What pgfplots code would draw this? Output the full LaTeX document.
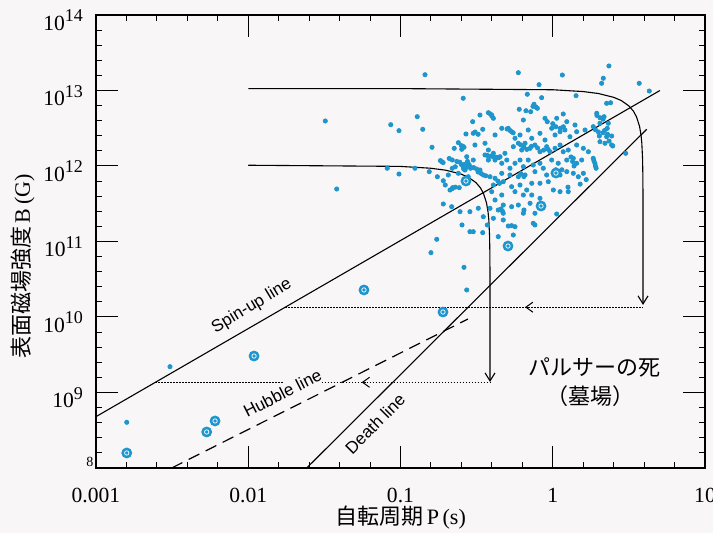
\documentclass[border=0pt]{standalone}
\usepackage{pgfplots}
\usepackage{pgfplotstable}
\pgfplotsset{compat=1.18}
\usepackage{fontspec}
\setmainfont{Liberation Serif}
\setsansfont{Liberation Sans}
\newfontfamily\jp{Noto Sans CJK JP}
\usetikzlibrary{arrows.meta}
\definecolor{pulsar}{RGB}{30,150,205}
\definecolor{paper}{RGB}{248,246,246}
\newcommand{\pw}[1]{10\raisebox{4.2pt}{\fontsize{9}{9}\selectfont #1}}

\pgfplotstableread{
x y
-0.839 13.209
-0.588 12.897
-1.494 12.596
-0.890 12.653
-1.064 12.547
-1.010 12.468
-0.854 12.486
-0.570 12.424
-0.793 12.248
-0.647 12.234
-0.620 12.309
-0.598 12.221
-0.583 12.248
-0.729 12.057
-0.738 12.072
-0.720 12.045
-1.087 11.970
-1.010 11.894
-0.905 11.970
-0.811 11.925
-0.758 11.858
-0.719 11.805
-0.706 11.748
-0.675 11.682
-0.657 11.713
-0.614 11.713
-1.419 11.695
-0.719 11.497
-0.664 11.461
-0.609 11.395
-0.596 11.219
-0.762 11.029
-0.800 10.852
-0.583 10.658
-0.565 10.358
-0.686 11.881
-0.620 11.903
-0.588 11.991
-0.555 11.858
-0.226 13.236
0.063 13.205
0.369 13.325
0.332 13.162
0.321 13.095
-0.090 13.077
-0.167 12.950
-0.073 12.905
0.153 12.931
0.354 12.830
-0.220 12.751
-0.176 12.732
-0.145 12.719
-0.123 12.817
-0.101 12.764
-0.423 12.706
-0.401 12.675
-0.478 12.675
-0.390 12.632
-0.526 12.587
-0.193 12.609
-0.051 12.632
-0.036 12.587
0.026 12.632
0.069 12.689
0.092 12.587
0.146 12.543
0.289 12.698
0.337 12.653
0.310 12.566
0.365 12.566
-0.522 12.433
-0.460 12.486
-0.379 12.411
-0.335 12.499
-0.292 12.499
-0.270 12.454
-0.248 12.367
-0.215 12.411
-0.161 12.477
-0.138 12.367
-0.084 12.433
-0.051 12.344
-0.007 12.499
0.015 12.411
0.048 12.454
0.080 12.477
0.113 12.388
0.157 12.454
0.212 12.477
0.266 12.521
0.306 12.397
0.354 12.388
0.387 12.397
0.387 12.278
-0.511 12.278
-0.445 12.301
-0.423 12.212
-0.390 12.168
-0.346 12.123
-0.314 12.168
-0.259 12.256
-0.226 12.301
-0.204 12.212
-0.182 12.301
-0.149 12.234
-0.117 12.278
-0.084 12.189
-0.040 12.256
-0.018 12.189
0.015 12.234
0.048 12.278
0.069 12.189
0.102 12.212
0.157 12.278
0.201 12.234
0.234 12.189
0.310 12.322
0.343 12.301
-0.565 12.123
-0.522 12.079
-0.445 12.146
-0.423 12.079
-0.379 12.079
-0.335 12.036
-0.302 12.079
-0.281 11.970
-0.248 12.036
-0.215 12.079
-0.193 11.991
-0.161 12.079
-0.128 12.013
-0.084 12.036
-0.062 11.970
-0.007 12.079
0.036 12.036
0.092 12.079
0.135 12.102
0.157 12.036
0.190 12.079
0.266 12.102
0.277 12.036
-0.576 11.947
-0.544 11.991
-0.478 11.947
-0.456 11.881
-0.412 11.858
-0.379 11.837
-0.335 11.903
-0.281 11.881
-0.226 11.858
-0.182 11.881
-0.117 11.925
-0.040 11.881
0.004 11.903
0.048 11.881
0.092 11.925
0.135 11.903
0.168 11.858
0.201 11.903
-0.390 11.748
-0.325 11.792
-0.270 11.726
-0.215 11.748
-0.138 11.771
-0.084 11.771
-0.029 11.792
0.004 11.682
0.048 11.660
0.102 11.660
-0.401 11.660
-0.335 11.616
-0.248 11.660
-0.193 11.616
-0.171 11.682
-0.138 11.616
-0.084 11.572
-0.379 11.550
-0.325 11.483
-0.270 11.461
-0.226 11.483
-0.149 11.506
-0.412 11.440
-0.358 11.417
-0.325 11.374
-0.193 11.374
-0.489 11.440
-0.544 11.395
-0.456 11.328
-0.390 11.307
-0.325 11.285
-0.292 11.205
-0.248 11.196
-0.117 11.219
-0.522 11.130
-0.358 11.064
-0.259 11.086
0.568 13.095
0.634 12.993
0.479 12.168
0.394 12.265
0.380 12.838
0.358 12.499
-0.460 11.117
-0.430 11.219
-0.128 11.241
-0.117 11.374
0.026 11.364
-0.189 11.417
-0.544 11.130
-2.514 9.342
-2.798 8.605
-0.430 12.140
-0.410 12.130
-0.390 12.120
-0.370 12.115
-0.355 12.110
-0.300 12.490
-0.280 12.470
-0.260 12.440
-0.210 12.280
-0.190 12.250
-0.170 12.220
-0.140 12.260
-0.100 12.240
-0.060 12.210
-0.030 12.220
0.000 12.560
0.020 12.520
0.050 12.500
0.070 12.520
0.120 12.120
0.130 12.060
0.140 12.000
0.270 12.070
0.280 12.000
0.285 11.970
0.020 11.950
0.040 11.930
0.060 11.950
-0.210 11.900
-0.190 11.860
-0.360 11.800
-0.350 11.770
-0.490 11.920
-0.470 11.900
-0.440 11.870
-0.560 12.060
-0.550 12.020
-0.540 11.970
-0.340 11.430
-0.330 11.400
-0.270 11.210
0.280 12.480
0.300 12.450
0.330 12.440
0.360 12.420
0.290 12.670
0.310 12.640
0.330 12.620
-0.130 12.790
-0.110 12.780
-0.410 12.690
-0.400 12.660
-0.510 12.450
-0.490 12.420
-0.580 12.020
-0.575 12.000
-0.570 11.980
-0.585 11.960
-0.600 12.270
-0.590 12.260
-0.660 11.700
-0.640 11.720
-0.680 12.100
-0.660 12.080
-0.630 12.060
-0.610 12.050
-0.600 12.020
-0.660 11.970
-0.640 11.990
-0.520 11.980
-0.500 11.960
-0.490 11.930
0.100 11.720
0.180 11.760
0.220 11.820
0.340 12.470
0.370 12.330
}\cloud

\pgfplotstableread{
x y
-2.798 8.199
-2.273 8.477
-2.218 8.623
-1.962 9.483
-1.240 10.358
-0.721 10.066
-0.570 11.801
-0.294 10.940
-0.077 11.470
0.021 11.907
}\ringed

\begin{document}
\begin{tikzpicture}
\fill[paper] (-48pt,-32.5pt) rectangle (308.5pt,234pt);
\useasboundingbox (-48pt,-32.5pt) rectangle (308.5pt,234pt);
\begin{axis}[
  at={(0,0)}, anchor=south west,
  scale only axis, width=304.5pt, height=226.5pt,
  xmin=-3, xmax=1, ymin=8, ymax=14,
  xtick={-3,-2,-1,0,1}, xticklabels={0.001,0.01,0.1,1,10},
  ytick={8,9,10,11,12,13,14},
  yticklabels={{},\pw{9},\pw{10},\pw{11},\pw{12},\pw{13},\pw{14}},
  minor tick num=4,
  major tick length=11pt, minor tick length=3.2pt,
  every tick/.style={black, line width=0.5pt},
  axis line style={line width=0.7pt},
  tick label style={font=\fontsize{10.8}{12}\selectfont},
  xticklabel style={yshift=-6.5pt},
  yticklabel style={xshift=-3pt,yshift=-2.5pt},
  clip=false,
]
% scatter of pulsars
\addplot[only marks, mark=*, mark size=1.05pt, mark options={draw=pulsar, fill=pulsar}] table[x=x,y=y] {\cloud};
% spin-up line
\addplot[black, line width=0.55pt] coordinates {(-3,8.68) (0.704,13.0)};
% death line
\addplot[black, line width=0.55pt] coordinates {(-1.616,8) (0.617,12.486)};
% Hubble line
\addplot[black, line width=0.6pt, dash pattern=on 6pt off 3.5pt] coordinates {(-2.503,8) (-0.557,9.973)};
% upper evolution track
\addplot[black, line width=0.55pt, -{Straight Barb[length=4pt,width=5pt]}] coordinates {
(-2.0,13.025) (-1.0,13.025) (0.0,13.010) (0.2,12.986) (0.3,12.960) (0.4,12.910)
(0.45,12.867) (0.5,12.796) (0.53,12.726) (0.55,12.652) (0.57,12.526) (0.58,12.407)
(0.585,12.304) (0.59,12.094) (0.592,11.856) (0.593,11.5) (0.593,10.16)};
% lower evolution track
\addplot[black, line width=0.55pt, -{Straight Barb[length=4pt,width=5pt]}] coordinates {
(-2.0,12.01) (-1.005,11.995) (-0.805,11.971) (-0.705,11.945) (-0.605,11.895)
(-0.555,11.852) (-0.505,11.781) (-0.475,11.711) (-0.455,11.637) (-0.435,11.511)
(-0.425,11.392) (-0.420,11.289) (-0.415,11.079) (-0.413,10.841) (-0.412,10.5) (-0.412,9.14)};
% dotted recycling lines
\addplot[black, line width=0.6pt, dash pattern=on 0.6pt off 0.9pt] coordinates {(-1.756,10.13) (0.593,10.13)};
\addplot[black, line width=0.5pt, -{Straight Barb[length=3.5pt,width=5pt]}] coordinates {(-0.15,10.13) (-0.182,10.13)};
\addplot[black, line width=0.6pt, dash pattern=on 0.6pt off 0.9pt] coordinates {(-2.61,9.135) (-1.772,9.135)};
\addplot[black, line width=0.6pt, dash pattern=on 0.6pt off 0.9pt] coordinates {(-1.518,9.135) (-0.412,9.135)};
\addplot[black, line width=0.5pt, -{Straight Barb[length=3.5pt,width=5pt]}] coordinates {(-1.225,9.135) (-1.255,9.135)};
% ringed (binary) pulsars
\addplot[only marks, mark=*, mark size=2.5pt, mark options={draw=pulsar, fill=pulsar}] table[x=x,y=y] {\ringed};
\addplot[only marks, mark=o, mark size=1.1pt, mark options={draw=white, line width=0.35pt}] table[x=x,y=y] {\ringed};
% labels
\node[font=\sffamily\fontsize{8.5}{9}\selectfont, rotate=31] at (axis cs:-1.977,10.14) {Spin-up line};
\node[font=\sffamily\fontsize{8.5}{9}\selectfont, rotate=27] at (axis cs:-1.775,8.99) {Hubble line};
\node[font=\sffamily\fontsize{8.5}{9}\selectfont, rotate=45] at (axis cs:-1.167,8.583) {Death line};
\node[font=\jp\fontsize{11}{12}\selectfont] at (axis cs:0.271,9.325) {パルサーの死};
\node[font=\jp\fontsize{11}{12}\selectfont] at (axis cs:0.251,8.954) {（墓場）};
\node[font=\fontsize{7}{7}\selectfont] at (axis cs:-3.04,8.08) {8};
\node[font=\jp\fontsize{11}{12}\selectfont] at ([yshift=-25pt]rel axis cs:0.5,0) {自転周期{\rmfamily\,P\,(s)}};
\node[font=\jp\fontsize{11}{12}\selectfont, rotate=90] at ([xshift=-36.5pt]rel axis cs:0,0.445) {表面磁場強度{\rmfamily\,B\,(G)}};
\end{axis}
\end{tikzpicture}
\end{document}
